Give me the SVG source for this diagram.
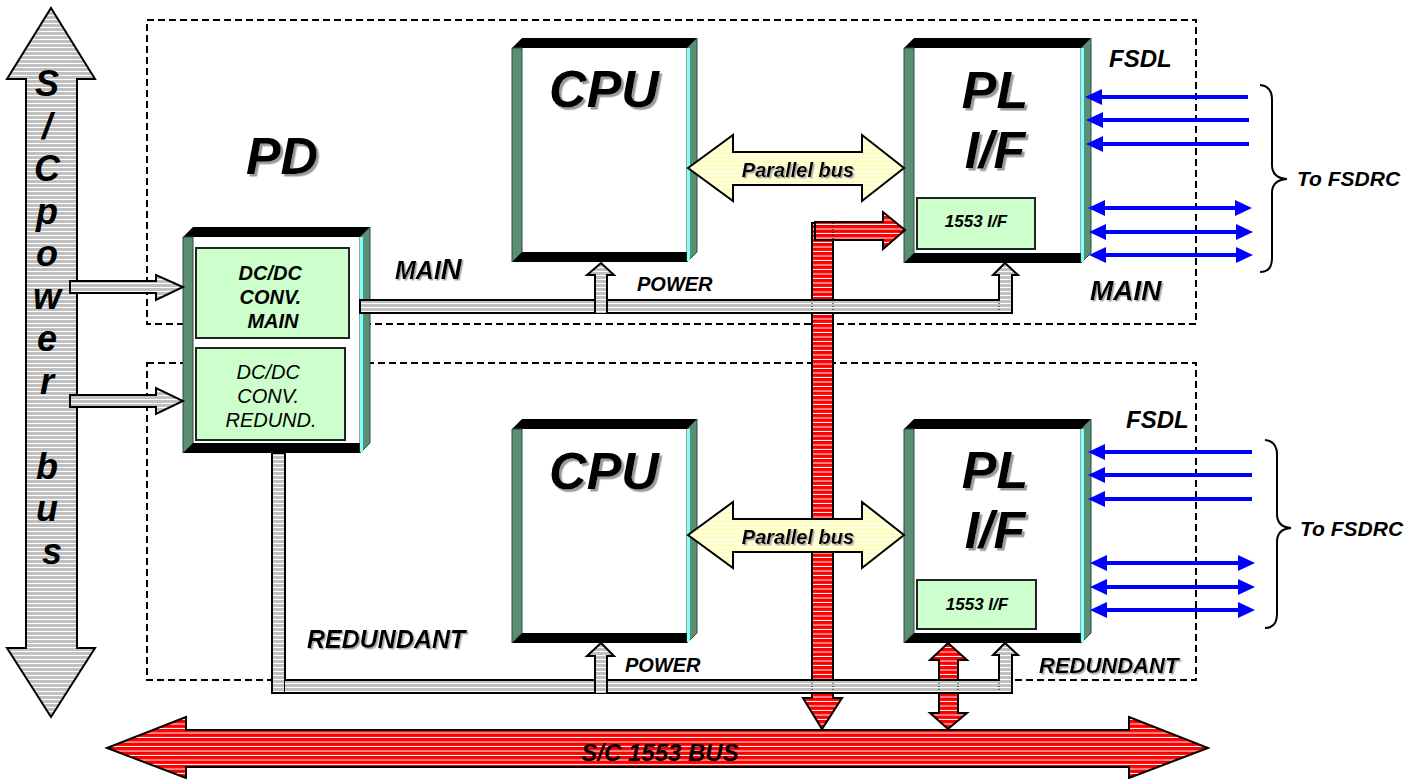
<svg xmlns="http://www.w3.org/2000/svg" width="1419" height="779" viewBox="0 0 1419 779">
  <defs>
    <pattern id="stripeGray" patternUnits="userSpaceOnUse" width="8" height="4">
      <rect width="8" height="4" fill="#c0c0c0"/>
      <rect y="3" width="8" height="1" fill="#ffffff"/>
    </pattern>
    <pattern id="stripeRed" patternUnits="userSpaceOnUse" width="8" height="4.5">
      <rect width="8" height="4.5" fill="#ff0000"/>
      <rect y="3.5" width="8" height="1" fill="#ffffff"/>
    </pattern>
    <pattern id="stripeYellow" patternUnits="userSpaceOnUse" width="8" height="4">
      <rect width="8" height="4" fill="#ffffc0"/>
      <rect y="3" width="8" height="1" fill="#ffffff"/>
    </pattern>
    <marker id="blueHead" viewBox="0 0 17 16" markerWidth="17" markerHeight="16" refX="7" refY="8" orient="auto-start-reverse" markerUnits="userSpaceOnUse">
      <path d="M0,0 L17,8 L0,16 Z" fill="#0000ff"/>
    </marker>
    <filter id="shadow" x="-10%" y="-10%" width="130%" height="140%">
      <feDropShadow dx="2.5" dy="2.5" stdDeviation="0" flood-color="#9a9a9a" flood-opacity="1"/>
    </filter>
    <filter id="shadowSm" x="-10%" y="-10%" width="130%" height="140%">
      <feDropShadow dx="1.5" dy="1.5" stdDeviation="0" flood-color="#a8a8a8" flood-opacity="1"/>
    </filter>
  </defs>
  <style>
    text { font-family: "Liberation Sans", Arial, sans-serif; font-weight: bold; font-style: italic; fill: #000; }
    .big { font-size: 52px; filter: url(#shadow); }
    .face { fill: #ffffff; }
    .bevTop { fill: #000000; }
    .bevSide { fill: #5b8f74; stroke: #2c4a3a; stroke-width: 1; }
    .bevHi { stroke: #80ffff; stroke-width: 3; }
    .inner { fill: #ccffcc; stroke: #222; stroke-width: 2; }
    .gray { fill: url(#stripeGray); stroke: #000; stroke-width: 2; stroke-linejoin: miter; }
    .red { fill: url(#stripeRed); stroke: #000; stroke-width: 2; }
    .yellow { fill: url(#stripeYellow); stroke: #000; stroke-width: 2; }
    .dash { fill: none; stroke: #000; stroke-width: 2; stroke-dasharray: 7 4; }
    .dot { stroke: #000; stroke-width: 1; stroke-dasharray: 1 2; }
    .blue { stroke: #0000ff; stroke-width: 4; fill: none; }
    .brace { fill: none; stroke: #000; stroke-width: 2; }
  </style>

  <rect width="1419" height="779" fill="#ffffff"/>

  <!-- dashed unit outlines: main (top) and redundant (bottom) -->
  <g id="unit-frames">
    <rect class="dash" x="147" y="20" width="1049" height="304"/>
    <rect class="dash" x="147" y="363" width="1049" height="317"/>
  </g>

  <!-- spacecraft power bus -->
  <g id="sc-power-bus">
    <path class="gray" d="M51,8 L95,79 L77,79 L77,648 L95,648 L51,717 L7,648 L26,648 L26,79 L7,79 Z"/>
    <text font-size="36" text-anchor="middle">
      <tspan x="52" y="96">S</tspan>
      <tspan x="52" y="138.5">/</tspan>
      <tspan x="52" y="181">C</tspan>
      <tspan x="52" y="223.5">p</tspan>
      <tspan x="52" y="266">o</tspan>
      <tspan x="52" y="308.5">w</tspan>
      <tspan x="52" y="351">e</tspan>
      <tspan x="52" y="393.5">r</tspan>
      <tspan x="52" y="478.5">b</tspan>
      <tspan x="52" y="521">u</tspan>
      <tspan x="52" y="563.5">s</tspan>
    </text>
  </g>

  <!-- S/C 1553 bus -->
  <g id="sc-1553-bus">
    <path class="red" d="M107,748 L186,717 L186,730 L1129,730 L1129,717 L1208,748 L1129,778 L1129,767 L186,767 L186,778 Z"/>
    <text x="660" y="761" font-size="24" text-anchor="middle">S/C 1553 BUS</text>
  </g>

  <!-- PD box -->
  <g id="pd">
    <rect class="face" x="193" y="237" width="167" height="206"/>
    <polygon class="bevTop" points="183,237 193,227 370,227 360,237"/>
    <polygon class="bevTop" points="193,443 360,443 360,453 183,453"/>
    <polygon class="bevSide" points="183,237 193,237 193,443 183,453"/>
    <polygon class="bevSide" points="360,237 370,227 370,443 360,453"/>
    <line class="bevHi" x1="361.5" y1="237" x2="361.5" y2="452"/>
    <text x="282" y="174" class="big" text-anchor="middle">PD</text>
    <rect class="inner" x="196" y="248" width="153" height="90"/>
    <text font-size="20" text-anchor="middle">
      <tspan x="273" y="280">DC/DC</tspan>
      <tspan x="273" y="304">CONV.</tspan>
      <tspan x="273" y="328">MAIN</tspan>
    </text>
    <rect class="inner" x="196" y="348" width="149" height="92"/>
    <text font-size="20" text-anchor="middle" style="font-weight:normal">
      <tspan x="271" y="379">DC/DC</tspan>
      <tspan x="271" y="403">CONV.</tspan>
      <tspan x="271" y="427">REDUND.</tspan>
    </text>
  </g>

  <!-- CPU (main) -->
  <g id="cpu-main">
    <rect class="face" x="522" y="48" width="165" height="204"/>
    <polygon class="bevTop" points="512,48 522,38 697,38 687,48"/>
    <polygon class="bevTop" points="522,252 687,252 687,262 512,262"/>
    <polygon class="bevSide" points="512,48 522,48 522,252 512,262"/>
    <polygon class="bevSide" points="687,48 697,38 697,252 687,262"/>
    <line class="bevHi" x1="688.5" y1="48" x2="688.5" y2="261"/>
    <text x="604" y="107" class="big" text-anchor="middle">CPU</text>
  </g>

  <!-- CPU (redundant) -->
  <g id="cpu-redundant">
    <rect class="face" x="522" y="429" width="165" height="204"/>
    <polygon class="bevTop" points="512,429 522,419 697,419 687,429"/>
    <polygon class="bevTop" points="522,633 687,633 687,643 512,643"/>
    <polygon class="bevSide" points="512,429 522,429 522,633 512,643"/>
    <polygon class="bevSide" points="687,429 697,419 697,633 687,643"/>
    <line class="bevHi" x1="688.5" y1="429" x2="688.5" y2="642"/>
    <text x="604" y="489" class="big" text-anchor="middle">CPU</text>
  </g>

  <!-- PL I/F (main) -->
  <g id="plif-main">
    <rect class="face" x="914" y="48" width="167" height="205"/>
    <polygon class="bevTop" points="904,48 914,38 1091,38 1081,48"/>
    <polygon class="bevTop" points="914,253 1081,253 1081,263 904,263"/>
    <polygon class="bevSide" points="904,48 914,48 914,253 904,263"/>
    <polygon class="bevSide" points="1081,48 1091,38 1091,253 1081,263"/>
    <line class="bevHi" x1="1082.5" y1="48" x2="1082.5" y2="262"/>
    <text x="995" y="108" class="big" text-anchor="middle">PL</text>
    <text x="995" y="168" class="big" text-anchor="middle">I/F</text>
    <rect class="inner" x="917" y="198" width="118" height="51"/>
    <text x="976" y="227" font-size="17" text-anchor="middle">1553 I/F</text>
  </g>

  <!-- PL I/F (redundant) -->
  <g id="plif-redundant">
    <rect class="face" x="914" y="429" width="167" height="204"/>
    <polygon class="bevTop" points="904,429 914,419 1091,419 1081,429"/>
    <polygon class="bevTop" points="914,633 1081,633 1081,643 904,643"/>
    <polygon class="bevSide" points="904,429 914,429 914,633 904,643"/>
    <polygon class="bevSide" points="1081,429 1091,419 1091,633 1081,643"/>
    <line class="bevHi" x1="1082.5" y1="429" x2="1082.5" y2="642"/>
    <text x="995" y="488" class="big" text-anchor="middle">PL</text>
    <text x="995" y="548" class="big" text-anchor="middle">I/F</text>
    <rect class="inner" x="917" y="580" width="119" height="49"/>
    <text x="977" y="610" font-size="17" text-anchor="middle">1553 I/F</text>
  </g>

  <!-- connectors -->
  <g id="connectors">
    <!-- power feeds from S/C bus into PD -->
    <path class="gray" d="M70,281 L156,281 L156,275 L183,287 L156,300 L156,293 L70,293 Z"/>
    <path class="gray" d="M70,395 L156,395 L156,388 L183,401 L156,414 L156,407 L70,407 Z"/>

    <!-- red 1553 stub from S/C bus to main PL I/F -->
    <path class="red" d="M812,223 L833,223 L833,698 L842,698 L822,729 L803,698 L812,698 Z"/>
    <path class="red" d="M815,222 L883,222 L883,212 L905,230 L883,249 L883,240 L815,240 Z"/>
    <line class="dot" x1="833" y1="223" x2="833" y2="240"/>

    <!-- red 1553 stub to redundant PL I/F -->
    <path class="red" d="M948,643 L967,660 L958,660 L958,713 L967,713 L948,729 L930,713 L939,713 L939,660 L930,660 Z"/>

    <!-- main power distribution -->
    <path class="gray" d="M360,300 L999,300 L999,275 L993,275 L1005,263 L1018,275 L1012,275 L1012,313 L360,313 Z"/>
    <path class="gray" d="M595,313 L595,275 L587,275 L601,263 L614,275 L607,275 L607,313"/>
    <line class="dot" x1="812" y1="300" x2="812" y2="313"/>
    <line class="dot" x1="833" y1="300" x2="833" y2="313"/>
    <line class="dot" x1="999" y1="300" x2="999" y2="313"/>

    <!-- redundant power distribution -->
    <rect class="gray" x="272" y="453" width="13" height="240"/>
    <path class="gray" d="M285,680 L999,680 L999,655 L993,655 L1005,643 L1018,655 L1012,655 L1012,693 L285,693"/>
    <path class="gray" d="M595,693 L595,656 L587,656 L601,643 L614,656 L607,656 L607,693"/>
    <line class="dot" x1="812" y1="680" x2="812" y2="693"/>
    <line class="dot" x1="833" y1="680" x2="833" y2="693"/>
    <line class="dot" x1="939" y1="680" x2="939" y2="693"/>
    <line class="dot" x1="958" y1="680" x2="958" y2="693"/>
    <line class="dot" x1="999" y1="680" x2="999" y2="693"/>

    <!-- parallel buses CPU <-> PL I/F -->
    <path class="yellow" d="M688,168 L733,135 L733,152 L862,152 L862,135 L904,168 L862,201 L862,185 L733,185 L733,201 Z"/>
    <text x="798" y="177" font-size="20" text-anchor="middle" filter="url(#shadowSm)">Parallel bus</text>
    <path class="yellow" d="M688,535 L733,502 L733,519 L862,519 L862,502 L904,535 L862,568 L862,552 L733,552 L733,568 Z"/>
    <text x="798" y="544" font-size="20" text-anchor="middle" filter="url(#shadowSm)">Parallel bus</text>

    <!-- FSDL links (main) -->
    <line class="blue" x1="1248" y1="97" x2="1095" y2="97" marker-end="url(#blueHead)"/>
    <line class="blue" x1="1249" y1="120" x2="1096" y2="120" marker-end="url(#blueHead)"/>
    <line class="blue" x1="1249" y1="144" x2="1096" y2="144" marker-end="url(#blueHead)"/>
    <line class="blue" x1="1098" y1="208" x2="1242" y2="208" marker-start="url(#blueHead)" marker-end="url(#blueHead)"/>
    <line class="blue" x1="1099" y1="232" x2="1243" y2="232" marker-start="url(#blueHead)" marker-end="url(#blueHead)"/>
    <line class="blue" x1="1099" y1="255" x2="1243" y2="255" marker-start="url(#blueHead)" marker-end="url(#blueHead)"/>
    <path class="brace" d="M1260,85 Q1272,86 1272,100 L1272,165 Q1272,178 1287,179 Q1272,180 1272,193 L1272,258 Q1272,272 1260,272"/>

    <!-- FSDL links (redundant) -->
    <line class="blue" x1="1252" y1="452" x2="1098" y2="452" marker-end="url(#blueHead)"/>
    <line class="blue" x1="1252" y1="475" x2="1098" y2="475" marker-end="url(#blueHead)"/>
    <line class="blue" x1="1252" y1="499" x2="1098" y2="499" marker-end="url(#blueHead)"/>
    <line class="blue" x1="1100" y1="563" x2="1245" y2="563" marker-start="url(#blueHead)" marker-end="url(#blueHead)"/>
    <line class="blue" x1="1100" y1="587" x2="1245" y2="587" marker-start="url(#blueHead)" marker-end="url(#blueHead)"/>
    <line class="blue" x1="1100" y1="610" x2="1245" y2="610" marker-start="url(#blueHead)" marker-end="url(#blueHead)"/>
    <path class="brace" d="M1265,440 Q1277,441 1277,455 L1277,514 Q1277,527 1291,528 Q1277,529 1277,542 L1277,614 Q1277,628 1265,628"/>
  </g>

  <!-- labels -->
  <g id="labels">
    <text x="1109" y="67" font-size="24">FSDL</text>
    <text x="1126" y="428" font-size="24">FSDL</text>
    <text x="1297" y="186" font-size="21">To FSDRC</text>
    <text x="1300" y="536" font-size="21">To FSDRC</text>
    <text x="395" y="279" font-size="25" filter="url(#shadowSm)">MAI<tspan font-size="29">N</tspan></text>
    <text x="1090" y="300" font-size="28" filter="url(#shadowSm)">MAIN</text>
    <text x="637" y="291" font-size="20">POWER</text>
    <text x="625" y="672" font-size="20">POWER</text>
    <text x="307" y="648" font-size="25" filter="url(#shadowSm)">REDUNDANT</text>
    <text x="1039" y="673" font-size="22" filter="url(#shadowSm)">REDUNDANT</text>
  </g>
</svg>
